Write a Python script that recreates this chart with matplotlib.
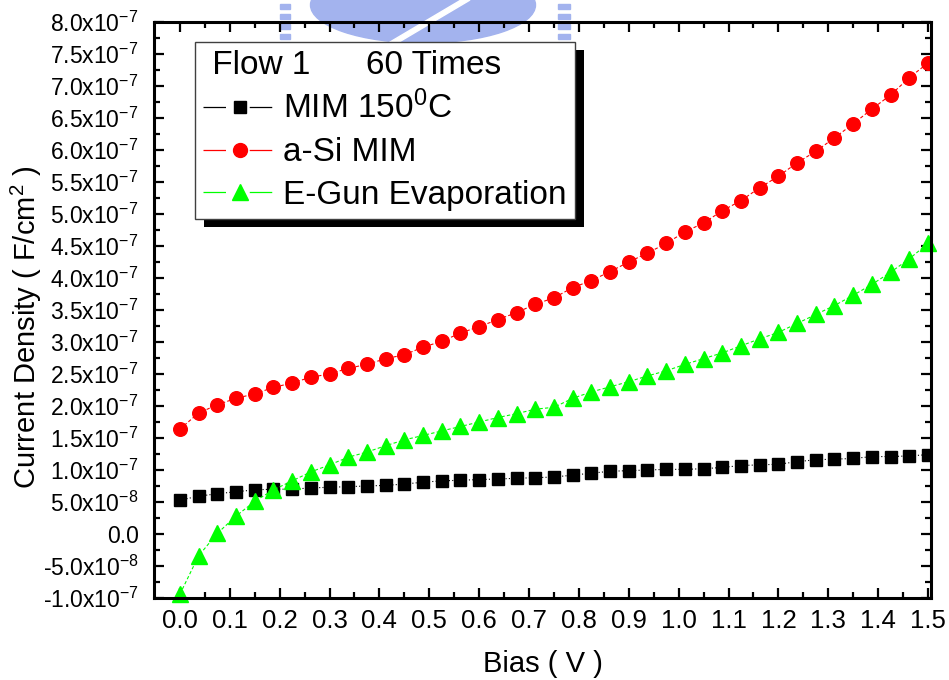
import numpy as np
import matplotlib
matplotlib.use("Agg")
import matplotlib.pyplot as plt
from matplotlib.lines import Line2D
from matplotlib.patches import Rectangle, Ellipse, Polygon

plt.rcParams['font.family'] = ['Liberation Sans', 'DejaVu Sans']
plt.rcParams['mathtext.fontset'] = 'custom'
plt.rcParams['mathtext.rm'] = 'Liberation Sans'
plt.rcParams['mathtext.it'] = 'Liberation Sans'

# bias sweep, 41 points from 0 to 1.5 V
bias = np.linspace(0, 1.5, 41)

# current density in units of 1e-7
mim_150c = [0.53, 0.59, 0.63, 0.66, 0.69, 0.70, 0.70, 0.72, 0.73, 0.74,
            0.75, 0.76, 0.78, 0.81, 0.83, 0.84, 0.85, 0.86, 0.87, 0.88,
            0.89, 0.92, 0.95, 0.98, 0.99, 1.00, 1.01, 1.01, 1.02, 1.04,
            1.07, 1.08, 1.09, 1.13, 1.16, 1.17, 1.18, 1.21, 1.21, 1.22, 1.24]
asi_mim = [1.64, 1.89, 2.02, 2.12, 2.19, 2.29, 2.36, 2.45, 2.50, 2.59,
           2.65, 2.74, 2.80, 2.92, 3.01, 3.14, 3.24, 3.35, 3.46, 3.59,
           3.69, 3.85, 3.96, 4.10, 4.25, 4.39, 4.54, 4.72, 4.86, 5.05,
           5.21, 5.41, 5.59, 5.80, 5.98, 6.19, 6.41, 6.64, 6.86, 7.13, 7.36]
egun = [-0.94, -0.34, 0.01, 0.28, 0.51, 0.69, 0.83, 0.97, 1.08, 1.20,
        1.28, 1.38, 1.47, 1.54, 1.61, 1.68, 1.75, 1.82, 1.88, 1.95,
        1.98, 2.12, 2.22, 2.30, 2.38, 2.47, 2.55, 2.65, 2.74, 2.83,
        2.94, 3.05, 3.15, 3.29, 3.43, 3.57, 3.73, 3.90, 4.09, 4.30, 4.54]
scale = 1e-7

xticks = [0.0, 0.1, 0.2, 0.3, 0.4, 0.5, 0.6, 0.7, 0.8, 0.9, 1.0, 1.1, 1.2, 1.3, 1.4, 1.5]
xticklabels = ['0.0', '0.1', '0.2', '0.3', '0.4', '0.5', '0.6', '0.7', '0.8', '0.9',
               '1.0', '1.1', '1.2', '1.3', '1.4', '1.5']
yticks = [-1.0e-7, -5.0e-8, 0.0, 5.0e-8, 1.0e-7, 1.5e-7, 2.0e-7, 2.5e-7, 3.0e-7,
          3.5e-7, 4.0e-7, 4.5e-7, 5.0e-7, 5.5e-7, 6.0e-7, 6.5e-7, 7.0e-7, 7.5e-7, 8.0e-7]
yticklabels = ['-1.0x10$^{-7}$', '-5.0x10$^{-8}$', '0.0', '5.0x10$^{-8}$',
               '1.0x10$^{-7}$', '1.5x10$^{-7}$', '2.0x10$^{-7}$', '2.5x10$^{-7}$',
               '3.0x10$^{-7}$', '3.5x10$^{-7}$', '4.0x10$^{-7}$', '4.5x10$^{-7}$',
               '5.0x10$^{-7}$', '5.5x10$^{-7}$', '6.0x10$^{-7}$', '6.5x10$^{-7}$',
               '7.0x10$^{-7}$', '7.5x10$^{-7}$', '8.0x10$^{-7}$']

W, H = 949, 680
fig = plt.figure(figsize=(W / 100, H / 100), dpi=100)
ax = fig.add_axes([154 / W, 82 / H, 777 / W, 576 / H])
ax.set_facecolor('none')

# faint blue logo behind the top of the frame
wm = '#a3b3ee'
fig.add_artist(Ellipse((423 / W, 1 - 5 / H), 225 / W, 76 / H, color=wm, zorder=-2,
                       transform=fig.transFigure))
fig.add_artist(Polygon([(385 / W, 1 - 45 / H), (394 / W, 1 - 45 / H),
                        (470 / W, 1.0), (461 / W, 1.0)], closed=True, color='white',
                       zorder=-1, transform=fig.transFigure))
for yy in (4, 14, 24, 34):
    fig.add_artist(Rectangle((280 / W, 1 - (yy + 5) / H), 10 / W, 5 / H, color=wm,
                             zorder=-2, transform=fig.transFigure))
    fig.add_artist(Rectangle((558 / W, 1 - (yy + 5) / H), 12 / W, 5 / H, color=wm,
                             zorder=-2, transform=fig.transFigure))

ax.plot(bias, np.array(mim_150c) * scale, color='black', lw=0.8, ls=(0, (1, 2)),
        marker='s', ms=8.5, mec='black', mfc='black')
ax.plot(bias, np.array(asi_mim) * scale, color='red', lw=0.8, ls=(0, (3, 2)),
        marker='o', ms=9.8, mec='red', mfc='red')
ax.plot(bias, np.array(egun) * scale, color='#00ff00', lw=0.8, ls=(0, (3, 2)),
        marker='^', ms=11, mec='#00ff00', mfc='#00ff00', clip_on=False)

ax.set_xlim(-0.052, 1.506)
ax.set_ylim(-1.0e-7, 8.0e-7)
ax.set_xticks(xticks)
ax.set_xticklabels(xticklabels, fontsize=18.5)
ax.set_xticks(np.array(xticks[:-1]) + 0.05, minor=True)
ax.set_yticks(yticks)
ax.set_yticklabels(yticklabels, fontsize=16.5)
ax.set_yticks(np.array(yticks[:-1]) + 2.5e-8, minor=True)

for s in ax.spines.values():
    s.set_linewidth(2.2)
ax.tick_params(which='both', direction='in', top=True, right=True, width=1.6)
ax.tick_params(which='major', length=7)
ax.tick_params(which='minor', length=4.5)
ax.tick_params(axis='x', pad=8)
ax.tick_params(axis='y', pad=11)

ax.set_xlabel('Bias ( V )', fontsize=21, labelpad=12)
ax.set_ylabel('Current Density ( F/cm$^2$ )', fontsize=21)
ax.yaxis.set_label_coords(-0.142, 0.47)

# legend handles with a gap around the marker
gap = (0, (18, 19, 18))
handles = [
    Line2D([], [], color='black', lw=0.9, ls=gap, marker='s', ms=9, mfc='black', mec='black'),
    Line2D([], [], color='red', lw=0.9, ls=gap, marker='o', ms=10, mfc='red', mec='red'),
    Line2D([], [], color='#00ff00', lw=0.9, ls=gap, marker='^', ms=11,
           mfc='#00ff00', mec='#00ff00'),
]
labels = ['MIM 150$^0$C', 'a-Si MIM', 'E-Gun Evaporation']
leg = ax.legend(handles, labels, title=' Flow 1      60 Times', loc='upper left',
                bbox_to_anchor=(41 / 777, 556 / 576), borderaxespad=0,
                fontsize=24, title_fontsize=24, fancybox=False, framealpha=1,
                edgecolor='#404040', handlelength=2.2, handletextpad=0.2,
                labelspacing=0.35, borderpad=0.25, alignment='left')
leg.get_frame().set_linewidth(1.0)
leg.set_zorder(6)
leg._legend_box.sep = 7

# solid black drop shadow
fig.canvas.draw()
bb = leg.get_window_extent()
shadow = Rectangle((bb.x0 + 9, bb.y0 - 8), bb.width, bb.height, facecolor='black',
                   edgecolor='none', transform=None, zorder=5.5)
ax.add_artist(shadow)

fig.savefig('out.png', dpi=100)
